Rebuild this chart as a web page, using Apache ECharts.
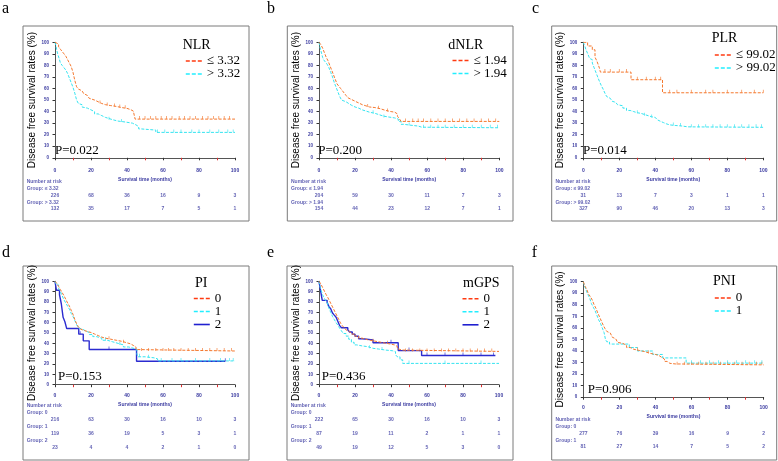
<!DOCTYPE html>
<html><head><meta charset="utf-8">
<script src="https://cdn.jsdelivr.net/npm/echarts@6/dist/echarts.min.js"></script>
<style>html,body{margin:0;padding:0;background:#fff}#c{width:778px;height:461px}</style>
</head><body><div id="c"></div>
<script>
// ---------- data ----------
const timeTicks = [0, 20, 40, 60, 80, 100];

// a: NLR
const nlrLow = [[0,100],[1,98.5],[2,96],[3,94],[4,92],[5,90],[6,88],[7,85],[8,82],[9,79],[10,74],[11,67],[12,61.5],[13,59.5],[14,58],[15,57],[16,55.5],[17,54],[18,53],[19,51.5],[20,50],[22,48.5],[24,47],[26,46],[28,45.2],[31,44.5],[34,43.5],[37,42.8],[40,41.7],[42,40.5],[43.5,38.8],[44.5,33.5],[100,33.5]];
const nlrHigh = [[0,100],[0.5,97],[1,93],[1.5,90],[2.5,85],[3,82],[4,80],[5,78],[6,76],[7,73],[8,69],[9,65],[10,61],[11,56],[12,50],[13,47],[14,46],[15,44],[16,43],[18,41.5],[20,40],[22,38],[24,36.5],[26,35],[28,34],[30,33],[32,31.8],[35,31],[39,30],[43,28.5],[45,27],[46.5,25],[48,24.5],[52,24],[56,22],[100,22]];
const nlrLowCensor = [25,29,33,36,39,47,50,53,56,59,62,65,69,72,75,78,82,85,88,91,94,97];
const nlrHighCensor = [30,37,57,61,66,70,76,80,86,91,96,99];
const nlrLowRisk = [226,68,36,16,9,3];
const nlrHighRisk = [132,35,17,7,5,1];

// b: dNLR
const dnlrLow = [[0,100],[1,98],[2,95],[3,91],[4,87],[5,84],[6,80],[7,76],[8,72],[9,68],[10,64],[11,62],[12,60],[13,58],[14,56],[15,54],[16,52],[17,50.5],[18,49],[20,47.5],[22,46],[24,45],[26,44],[28,43.5],[31,42.5],[34,41],[37,40],[40,39.5],[42,38],[43.5,36],[44.5,34],[45.5,31.5],[100,31.5]];
const dnlrHigh = [[0,100],[0.5,96],[1,93],[1.5,90],[2,87],[2.5,85],[3.5,83],[4.5,81],[5.5,78],[6.5,74],[7.5,70],[8.5,65],[9.5,61],[10.5,57],[11.5,53],[12.5,50],[13.5,48.5],[15,47],[16.5,45.5],[18,44],[20,43],[22,41.5],[24,40.5],[26,39.5],[28,38.5],[31,37.5],[33,36],[36,35],[40,34.5],[42,33.5],[44,31.5],[45.5,29],[47,28],[52,27.5],[55,26.5],[57,26],[100,26]];
const dnlrLowCensor = [27,33,38,48,52,55,58,62,66,70,74,78,82,86,90,94,98];
const dnlrHighCensor = [30,36,50,58,62,66,70,75,80,85,90,95,99];
const dnlrLowRisk = [204,59,30,11,7,3];
const dnlrHighRisk = [154,44,23,12,7,1];

// c: PLR
const plrLow = [[0,100],[2.4,96.8],[5,93.5],[6.5,87.1],[7.5,83.9],[8.3,80.6],[9,77.4],[9.5,74.2],[26.5,67.6],[44,56.3],[100,56.3]];
const plrHigh = [[0,100],[0.5,98],[1,96],[1.5,93.5],[2,92],[2.5,90],[3,88],[3.5,86],[4,85],[5,82],[6,78],[7,74],[8,70],[9,66],[10,62.5],[11,59.5],[12,56],[13,53],[14,51.5],[15,50.5],[16,49],[17,48],[18,47],[19,46],[20,45],[22,43],[24,41],[26,40],[28,39],[30,38.5],[32,37.5],[34,36.5],[36,35.5],[38,35],[40,34],[41,33],[42,31.5],[43,30.5],[44.5,29.5],[46,28.5],[48,28],[51,27.5],[55,26.8],[58,26.4],[100,26.4]];
const plrLowCensor = [12,15,20,24,30,35,40,43,48,52,60,68,72,80,88,95,100];
const plrHighCensor = [30,34,38,50,54,60,64,68,72,76,80,84,88,92,96,99];
const plrLowRisk = [31,13,7,3,1,1];
const plrHighRisk = [327,90,46,20,13,3];

// d: PI
const pi0 = [[0,100],[1,98],[2,95],[3,92],[4,89],[5,86],[6,82.5],[7,79],[8,76],[9,72],[10,68],[11,63],[12,59],[13,56],[14,54],[15,52.5],[16,51.5],[18,50.5],[20,49],[22,47.5],[24,46],[26,45],[28,44],[31,43],[34,42],[37,40.5],[40,39.5],[42,38],[43.5,36.5],[45,34],[46,32.6],[100,32.6]];
const pi1 = [[0,100],[0.8,96.5],[2,93],[3,90],[4,86],[5,82],[6,79],[7,76],[8,73],[9,69],[10,66],[11,62],[12,58],[13,55],[14,53.5],[15.5,52],[17,50.5],[19,48.5],[21,46.5],[23,45],[26,43],[29,41.5],[32,40],[35,38.5],[38,36.5],[41,35],[44,34],[45.5,30],[46,27],[50,26],[55,25],[57,23],[100,23]];
const pi2 = [[0,100],[0.8,91.3],[2.5,87],[3.5,78.3],[4.5,65.2],[5.5,60.9],[6.5,54.3],[13.2,48.9],[15.7,42.4],[19,34],[45.3,22.7],[94.6,22.7]];
const pi0Censor = [30,38,48,52,56,60,63,66,70,74,78,82,86,90,94,98];
const pi1Censor = [28,36,47,52,59,65,70,78,86,92,97,99];
const pi2Censor = [14,30,94.6];
const pi0Risk = [216,63,30,16,10,3];
const pi1Risk = [119,36,19,5,3,1];
const pi2Risk = [23,4,4,2,1,0];

// e: mGPS
const gps0 = [[0,100],[1,97.5],[2,94],[3,90.5],[4,87],[5,84],[6,80.5],[7,77],[8,73.5],[9,70],[10,66.5],[11,63],[12,59.5],[13,57],[14,55],[15,53],[16,51.5],[17,50],[18,49],[20,47],[22,45],[24,43.5],[27,42.5],[30,41.5],[33,40.5],[36,39.5],[39,38.5],[42,37],[43.5,35],[44.5,33.5],[46,32.2],[100,32.2]];
const gps1 = [[0,100],[0.7,94],[1.2,91],[2,87],[2.5,85],[3.5,82],[4.5,79.5],[5.5,74],[6.5,70],[7.5,66],[8.5,63],[9.5,60],[10.5,57.5],[11.5,54.5],[12.5,52],[13.5,49.5],[15,47],[16.5,44],[18,41],[19.5,38.5],[21,37.5],[24,36.8],[27,35.2],[30,34.5],[33,33.5],[37,32.8],[41,32],[42.5,29],[43.5,27],[45,24],[46.5,20.6],[100,20.6]];
const gps2 = [[0,100],[0.8,91.8],[1.8,81.6],[4.5,79.6],[5.5,75.5],[6.5,73.5],[7.5,69.4],[8.5,67.3],[9.5,65.3],[10.5,61.2],[11.5,57.1],[12.5,55.1],[16,53],[17,51],[18.5,48.9],[20,46.9],[22,44.5],[24,43.4],[30,40.5],[44,33],[57,28.2],[98,28.2]];
const gps0Censor = [30,38,48,52,56,60,64,68,72,76,80,84,88,92,96];
const gps1Censor = [28,35,50,70,90];
const gps2Censor = [40,50,60,70,80,90,97];
const gps0Risk = [222,65,30,16,10,3];
const gps1Risk = [87,19,11,2,1,1];
const gps2Risk = [49,19,12,5,3,0];

// f: PNI
const pni0 = [[0,100],[0.5,98],[1,96],[2,93],[3,89],[4,87],[5,84],[6,80],[7,77],[8,73],[9,69.5],[10,66],[11,62.5],[12,59.5],[13,57],[14,55.5],[15,54],[16,52],[17,50.5],[18,49],[19,47.5],[20,46.5],[22,45],[24,43],[26,41.5],[28,40.5],[31,39.5],[34,38],[37,37],[40,36],[42,34.5],[43.5,33],[45,31],[46.5,29.3],[48,28.8],[51,28],[100,28]];
const pni1 = [[0,100],[0.5,97],[1.5,93],[2.5,89],[3.5,86],[4.5,81],[5.5,78],[6.5,75],[7.5,71],[8.5,67],[9.5,64],[10.5,60],[11.5,56],[12.3,50],[13,48],[14.5,46],[25.5,43],[30,40],[38.5,37],[44,34],[57,29.5],[100,29.5]];
const pni0Censor = [30,36,52,56,60,64,68,72,76,80,84,88,92,96,99];
const pni1Censor = [60,65,70,75,80,85,90,95,99];
const pni0Risk = [277,76,39,16,9,2];
const pni1Risk = [81,27,14,7,5,2];

const factorNames = ['NLR','dNLR','PLR','PI','mGPS','PNI'];
const panelLetters = ['a','b','c','d','e','f'];
const pValues = ['P=0.022','P=0.200','P=0.014','P=0.153','P=0.436','P=0.906'];
const groupNames = [['≤ 3.32','> 3.32'],['≤ 1.94','> 1.94'],['≤ 99.02','> 99.02'],['0','1','2'],['0','1','2'],['0','1']];
const riskGroupLabels = [['Group: ≤ 3.32','Group: > 3.32'],['Group: ≤ 1.94','Group: > 1.94'],['Group: ≤ 99.02','Group: > 99.02'],['Group: 0','Group: 1','Group: 2'],['Group: 0','Group: 1','Group: 2'],['Group: 0','Group: 1']];
const curveData = [[nlrLow,nlrHigh],[dnlrLow,dnlrHigh],[plrLow,plrHigh],[pi0,pi1,pi2],[gps0,gps1,gps2],[pni0,pni1]];
const censorData = [[nlrLowCensor,nlrHighCensor],[dnlrLowCensor,dnlrHighCensor],[plrLowCensor,plrHighCensor],[pi0Censor,pi1Censor,pi2Censor],[gps0Censor,gps1Censor,gps2Censor],[pni0Censor,pni1Censor]];
const riskData = [[nlrLowRisk,nlrHighRisk],[dnlrLowRisk,dnlrHighRisk],[plrLowRisk,plrHighRisk],[pi0Risk,pi1Risk,pi2Risk],[gps0Risk,gps1Risk,gps2Risk],[pni0Risk,pni1Risk]];

// ---------- layout / style ----------
const layout = [
  {frame:[23,26,226,195], grid:[55,42.3,180,115.5], xOff:6.5, risk:[182,27], letter:[2,9], head:[182.7,45.7], leg:[185,54.5], lh:12, p:[55,151]},
  {frame:[287.3,26,225.7,195], grid:[319,42.3,180.3,115.5], xOff:6.5, risk:[182,27], letter:[267,9], head:[448.3,45.5], leg:[451.7,54], lh:12.5, p:[318.3,151]},
  {frame:[551.7,26,225,195], grid:[583.3,42.3,180,115.5], xOff:6.5, risk:[182,27], letter:[532,9], head:[711.7,38.5], leg:[714,48.5], lh:11.5, p:[583,151]},
  {frame:[23,266,226,194], grid:[55,281.3,180,103.4], xOff:4.8, risk:[405.7,42.3], letter:[2,253], head:[195,283.3], leg:[193,292], lh:13, p:[58,377]},
  {frame:[287,266,226,194], grid:[319,281.3,180,103.4], xOff:4.8, risk:[405.7,42.3], letter:[267,253], head:[463,283], leg:[461.7,292.3], lh:12.2, p:[321.7,377]},
  {frame:[551.7,266,225,194], grid:[583.3,281.7,180.4,115.5], xOff:3.5, risk:[419.7,27.3], letter:[531.7,253], head:[713,281.7], leg:[714,291.5], lh:12.3, p:[587.7,390]}
];
const curveColors = ['#f4782e','#35e4f0','#2b2bd0'];
const legendColors = ['#ff3a10','#22eeff','#2020d0'];
const tickBlue = '#3a3aa0';

function stepAt(curve, t) {
  let v = curve[0][1];
  for (const pt of curve) { if (pt[0] <= t) v = pt[1]; else break; }
  return v;
}

const grids = [], xAxes = [], yAxes = [], series = [], legends = [], graphics = [];

layout.forEach((L, i) => {
  const g = grids.length;
  grids.push({left:L.grid[0], top:L.grid[1], width:L.grid[2], height:L.grid[3]});
  grids.push({left:L.grid[0], top:L.risk[0], width:L.grid[2], height:L.risk[1]});
  xAxes.push({
    gridIndex:g, type:'value', min:0, max:100, interval:20, offset:L.xOff,
    name:'Survival time (months)', nameLocation:'middle', nameGap:13,
    nameTextStyle:{fontSize:5, color:tickBlue, fontFamily:'Liberation Sans', fontWeight:'bold'},
    axisLine:{lineStyle:{color:'#555', width:1}},
    axisTick:{length:2.5, lineStyle:{color:'#333'}},
    minorTick:{show:true, splitNumber:2, length:2.5, lineStyle:{color:'#e03030'}},
    axisLabel:{fontSize:5, color:tickBlue, margin:4, fontFamily:'Liberation Sans', fontWeight:'bold'},
    splitLine:{show:false}
  });
  xAxes.push({gridIndex:g+1, type:'value', min:0, max:100, show:false});
  yAxes.push({
    gridIndex:g, type:'value', min:0, max:100, interval:10, offset:4,
    name:'Disease free survival rates (%)', nameLocation:'middle', nameGap:14,
    nameTextStyle:{fontSize:10, color:'#000', fontFamily:'Liberation Sans'},
    axisLine:{show:true, lineStyle:{color:'#555', width:1}},
    axisTick:{show:true, length:2.5, lineStyle:{color:'#333'}},
    axisLabel:{fontSize:4.5, color:tickBlue, margin:2, fontFamily:'Liberation Sans', fontWeight:'bold'},
    splitLine:{show:false}
  });
  const nRows = riskData[i].length * 2;
  yAxes.push({gridIndex:g+1, type:'value', min:0, max:nRows, inverse:true, show:false});

  const labelDx = L.frame[0] + 3.7 - L.grid[0];
  curveData[i].forEach((curve, k) => {
    const isSolid = k === 2;
    series.push({
      type:'line', name:groupNames[i][k], xAxisIndex:g, yAxisIndex:g, step:'end',
      data:curve, symbol:'none', silent:true, z:3 - k,
      color:curveColors[k],
      lineStyle:{width:isSolid ? 1.4 : 1, color:curveColors[k], type:isSolid ? 'solid' : [3,1.5]}
    });
    series.push({
      type:'scatter', name:'censor-' + i + '-' + k, xAxisIndex:g, yAxisIndex:g,
      data:censorData[i][k].map(t => [t, stepAt(curve, t)]),
      symbol:'rect', symbolSize:[0.8,3], symbolOffset:[0,-1.5], silent:true,
      itemStyle:{color:curveColors[k]}
    });
    series.push({
      type:'scatter', name:'risk-' + i + '-' + k, xAxisIndex:g+1, yAxisIndex:g+1,
      data:riskData[i][k].map((v, j) => [timeTicks[j], 2 * k + 2, v]),
      symbolSize:0, silent:true,
      label:{show:true, position:'inside', formatter:p => p.value[2], fontSize:5, color:tickBlue, fontFamily:'Liberation Sans', fontWeight:'bold'}
    });
  });
  const rowLabels = [['Number at risk', 0]].concat(riskGroupLabels[i].map((s, k) => [s, 2 * k + 1]));
  series.push({
    type:'scatter', name:'risklab-' + i, xAxisIndex:g+1, yAxisIndex:g+1,
    data:rowLabels.map(r => [0, r[1], r[0]]), symbolSize:0, silent:true,
    label:{show:true, position:'inside', align:'left', offset:[labelDx, 0], formatter:p => p.value[2], fontSize:5, color:tickBlue, fontFamily:'Liberation Sans', fontWeight:'bold'}
  });

  legends.push({
    left:L.leg[0], top:L.leg[1], orient:'vertical', itemWidth:16, itemHeight:8, itemGap:0, padding:0,
    selectedMode:false,
    textStyle:{fontSize:13, fontFamily:'Liberation Serif', color:'#000', lineHeight:L.lh},
    data:groupNames[i].map((n, k) => ({
      name:n,
      lineStyle:{color:legendColors[k], width:1.6, type:k === 2 ? 'solid' : [4,2]},
      itemStyle:{color:legendColors[k], opacity:0}
    }))
  });

  graphics.push({type:'rect', shape:{x:L.frame[0], y:L.frame[1], width:L.frame[2], height:L.frame[3]}, style:{fill:null, stroke:'#7a7a7a', lineWidth:1}, silent:true});
  graphics.push({type:'text', x:L.letter[0], y:L.letter[1], style:{text:panelLetters[i], font:'16px "Liberation Serif"', fill:'#000', textVerticalAlign:'middle'}});
  graphics.push({type:'text', x:L.head[0], y:L.head[1], style:{text:factorNames[i], font:'14px "Liberation Serif"', fill:'#000', textVerticalAlign:'middle'}});
  graphics.push({type:'text', x:L.p[0], y:L.p[1], style:{text:pValues[i], font:'13px "Liberation Serif"', fill:'#000', textVerticalAlign:'middle'}});
});

const chart = echarts.init(document.getElementById('c'), null, {renderer:'canvas'});
chart.setOption({
  animation:false,
  backgroundColor:'#fff',
  grid:grids, xAxis:xAxes, yAxis:yAxes, series:series, legend:legends, graphic:graphics
});
</script>
</body></html>
